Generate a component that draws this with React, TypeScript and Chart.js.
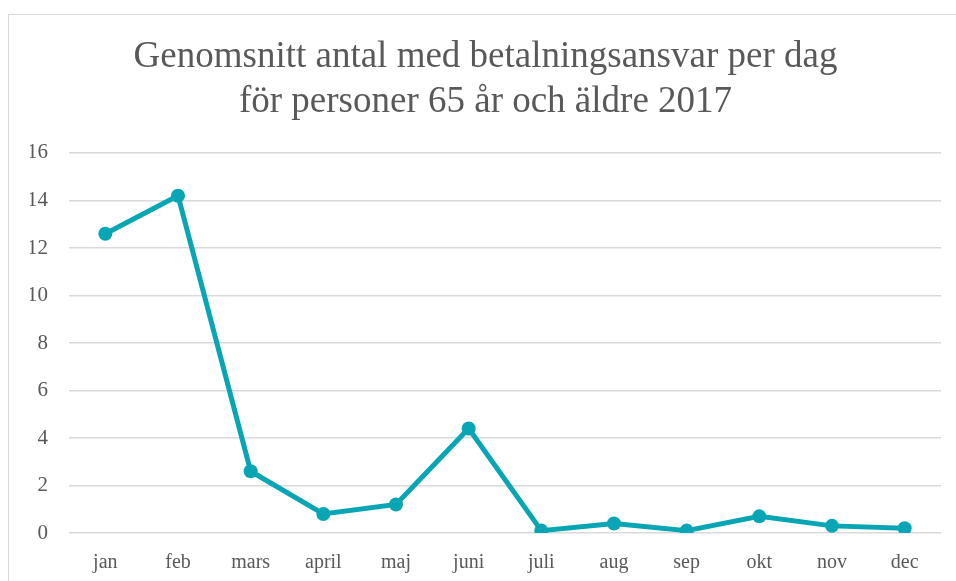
import React, { useEffect, useRef } from "react";
import { Chart, registerables } from "chart.js";

Chart.register(...registerables);

const months = ["jan", "feb", "mars", "april", "maj", "juni", "juli", "aug", "sep", "okt", "nov", "dec"];
const values = [12.6, 14.2, 2.6, 0.8, 1.2, 4.4, 0.1, 0.4, 0.1, 0.7, 0.3, 0.2];
const titleLines = ["Genomsnitt antal med betalningsansvar per dag", "för personer 65 år och äldre 2017"];
const yMin = 0;
const yMax = 16;
const yStep = 2;

const FONT = "'Liberation Serif', 'Times New Roman', serif";
const TEXT = "#595959";

export default function App() {
  const ref = useRef<HTMLCanvasElement | null>(null);
  useEffect(() => {
    if (!ref.current) return;
    const chart = new Chart(ref.current, {
      type: "line",
      data: {
        labels: months,
        datasets: [
          {
            data: values,
            borderColor: "#08A6B5",
            backgroundColor: "#08A6B5",
            borderWidth: 5,
            pointRadius: 7,
            pointHoverRadius: 7,
            pointBackgroundColor: "#08A6B5",
            pointBorderWidth: 0,
            tension: 0,
          },
        ],
      },
      options: {
        animation: false,
        responsive: false,
        maintainAspectRatio: false,
        layout: { padding: { left: 20, right: 20, top: 0, bottom: 0 } },
        plugins: {
          legend: { display: false },
          tooltip: { enabled: false },
          title: {
            display: true,
            text: titleLines,
            color: TEXT,
            font: { family: FONT, size: 37, weight: "normal", lineHeight: 1.216 },
            padding: { top: 20, bottom: 28 },
          },
        },
        scales: {
          x: {
            offset: true,
            grid: { display: false, drawTicks: false },
            border: { display: false },
            ticks: { color: TEXT, font: { family: FONT, size: 20 }, padding: 18, maxRotation: 0 },
            afterFit: (s: any) => {
              s.height = 48;
            },
          },
          y: {
            min: yMin,
            max: yMax,
            ticks: { stepSize: yStep, color: TEXT, font: { family: FONT, size: 21 }, padding: 21 },
            grid: { color: "#d9d9d9", lineWidth: 1.5, drawTicks: false },
            border: { display: false },
            afterFit: (s: any) => {
              s.width = 39;
            },
          },
        },
      },
    });
    return () => chart.destroy();
  }, []);
  return (
    <div
      style={{
        position: "absolute",
        left: 8,
        top: 14,
        width: 952,
        height: 580,
        borderTop: "1px solid #d9d9d9",
        borderLeft: "1px solid #d9d9d9",
        background: "#fff",
      }}
    >
      <canvas ref={ref} width={951} height={566} style={{ display: "block", marginLeft: 1 }} />
    </div>
  );
}
